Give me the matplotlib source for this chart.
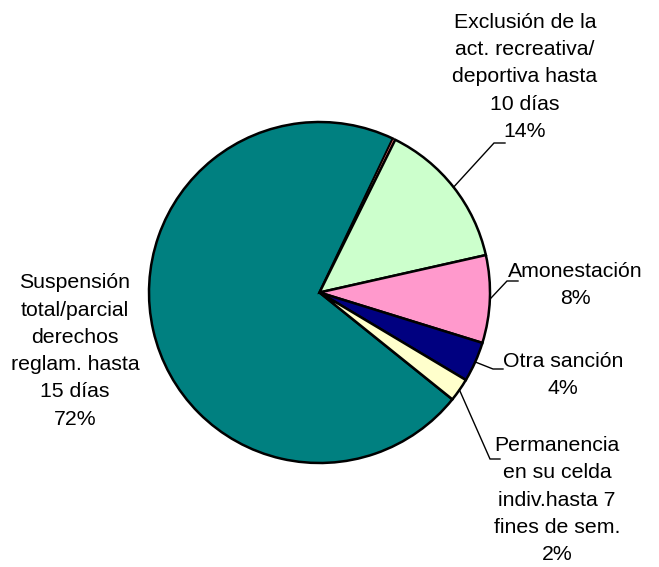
import numpy as np
import matplotlib
matplotlib.use("Agg")
import matplotlib.pyplot as plt
from matplotlib import font_manager

# ---- data ----
categories = [
    "Suspensión\ntotal/parcial\nderechos\nreglam. hasta\n15 días",
    "",
    "Exclusión de la\nact. recreativa/\ndeportiva hasta\n10 días",
    "Amonestación",
    "Otra sanción",
    "Permanencia\nen su celda\nindiv.hasta 7\nfines de sem.",
]
values = [71.3, 0.25, 14.15, 8.3, 3.8, 2.2]
pct_labels = ["72%", "", "14%", "8%", "4%", "2%"]
colors = ["#008080", "#FF7070", "#CCFFCC", "#FF99CC", "#000080", "#FFFFCC"]

names = {f.name for f in font_manager.fontManager.ttflist}
fam = ["Liberation Sans Narrow", "Liberation Sans", "DejaVu Sans"]
fam = [f for f in fam if f in names] + ["DejaVu Sans"]
plt.rcParams["font.family"] = fam
narrow = "Liberation Sans Narrow" in names

W, H = 659, 567
fig = plt.figure(figsize=(W / 100, H / 100), dpi=100)
ax = fig.add_axes([0, 0, 1, 1])
ax.set_xlim(0, W)
ax.set_ylim(0, H)
ax.set_aspect("equal")
ax.axis("off")

cx, cy, R = 319.5, H - 292.5, 170.5
start = -38.8  # degrees, math convention
wedges, _ = ax.pie(values, colors=colors, startangle=start, counterclock=False,
                   center=(cx, cy), radius=R,
                   wedgeprops=dict(edgecolor="black", linewidth=1.8))
wedges[1].set_linewidth(1.0)
ax.set_xlim(0, W)
ax.set_ylim(0, H)

fs = 17.3 if narrow else 15.3
ls = 1.03 * 29.0 / (0.907 * fs / 0.72)
layout = {
    0: dict(xy=(75, 351), elbow=None),
    2: dict(xy=(525, 77), elbow=(494, 143), end=(505, 143)),
    3: dict(xy=(575, 285), elbow=(507, 281), end=(518, 281)),
    4: dict(xy=(563, 375), elbow=(493, 369), end=(503, 369)),
    5: dict(xy=(557, 500), elbow=(490, 459), end=(500, 459)),
}
for i, w in enumerate(wedges):
    if i not in layout:
        continue
    L = layout[i]
    txt = categories[i] + "\n" + pct_labels[i]
    tx, ty = L["xy"]
    ax.text(tx, H - ty, txt, ha="center", va="center", fontsize=fs,
            linespacing=ls, color="black")
    if L.get("elbow"):
        mid = np.deg2rad((w.theta1 + w.theta2) / 2)
        px, py = cx + R * np.cos(mid), cy + R * np.sin(mid)
        ex, ey = L["elbow"]
        nx, ny = L["end"]
        ax.plot([px, ex, nx], [py, H - ey, H - ny], color="black", lw=1.0,
                solid_joinstyle="miter")

fig.savefig("out.png", dpi=100)
